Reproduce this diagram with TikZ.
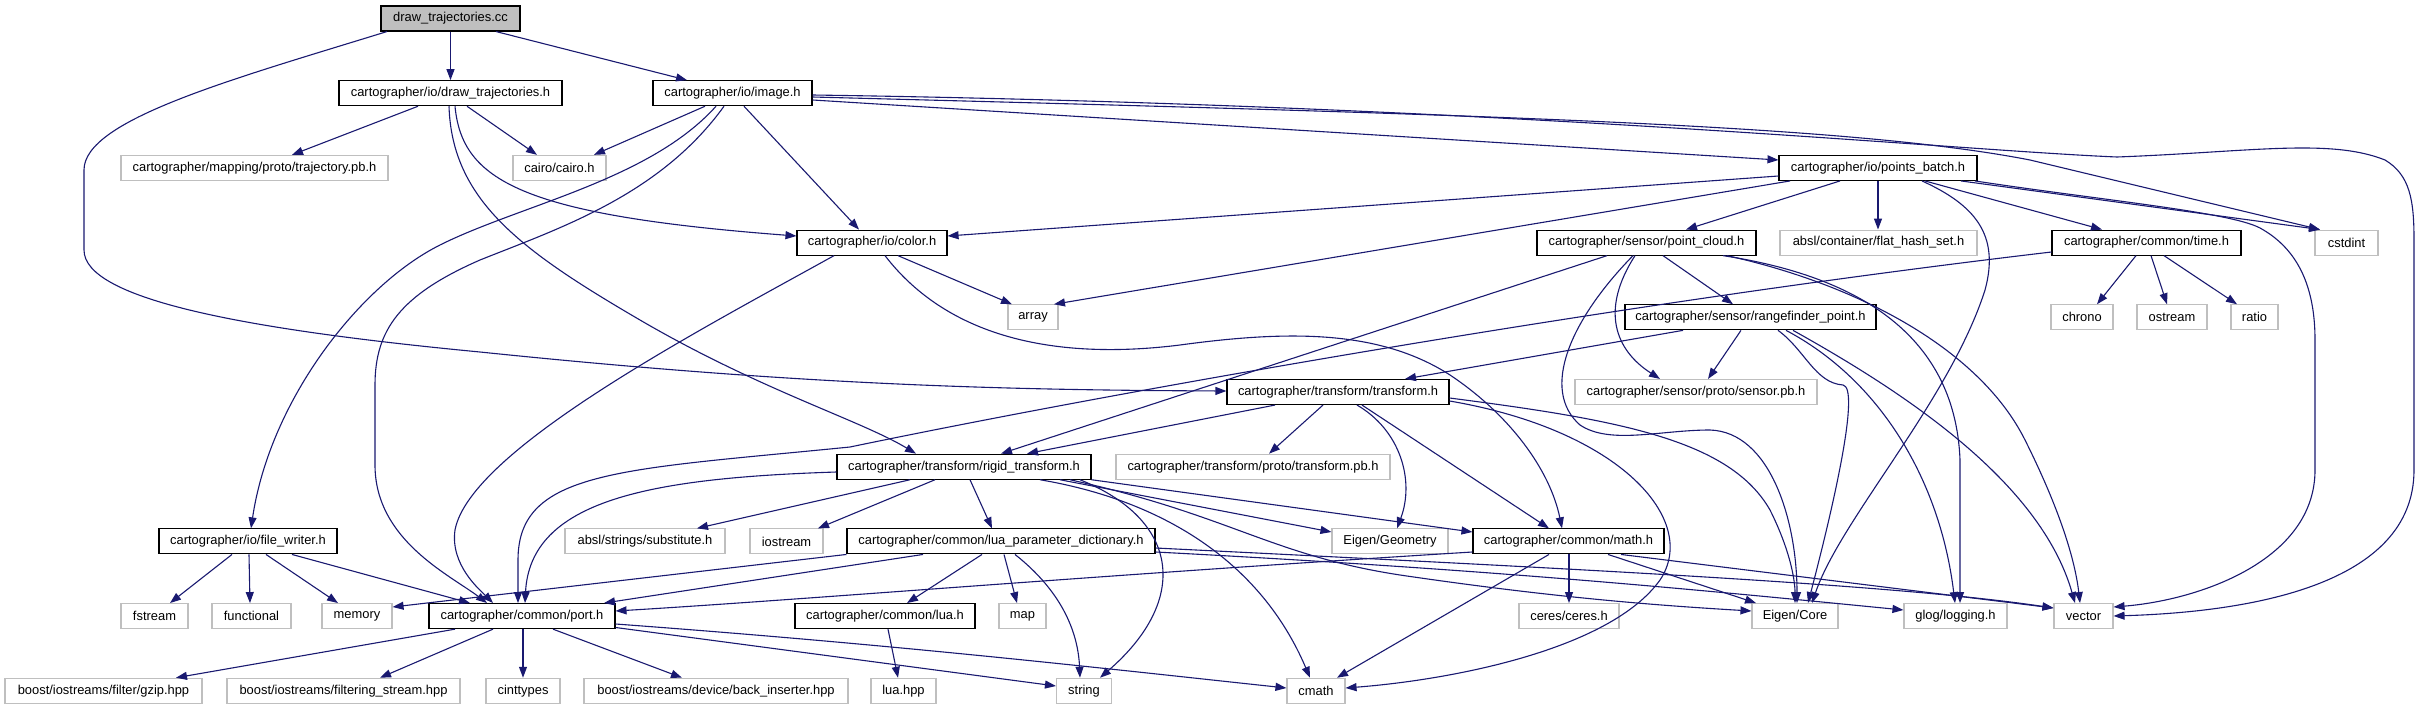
\documentclass[tikz,border=0pt]{standalone}
\usepackage{fontspec}
\setmainfont{Liberation Sans}
\usetikzlibrary{arrows.meta}
\definecolor{edgeblue}{RGB}{25,25,112}
\definecolor{extgray}{RGB}{191,191,191}
\begin{document}
\begin{tikzpicture}[x=1pt,y=-1pt,
  base/.style={rectangle, minimum height=25pt, inner sep=0pt, line width=1.1pt,
    font=\fontsize{12.9}{14}\selectfont, text=black},
  inode/.style={base, draw=black, fill=white},
  enode/.style={base, draw=extgray, fill=white},
  rootnode/.style={base, draw=black, fill=extgray},
  edge/.style={draw=edgeblue, line width=1.1pt, -{Triangle[length=11pt,width=8pt]}}]
\useasboundingbox (0,0) rectangle (2420,709);
% nodes
\node[rootnode, minimum width=139pt] (dtcc) at (450.5,18.5) {draw\_trajectories.cc};
\node[inode, minimum width=223pt] (dth) at (450.5,93.2) {cartographer/io/draw\_trajectories.h};
\node[inode, minimum width=159pt] (imgh) at (732.5,93.2) {cartographer/io/image.h};
\node[enode, minimum width=267pt] (trajpb) at (254.5,167.9) {cartographer/mapping/proto/trajectory.pb.h};
\node[enode, minimum width=93pt] (cairo) at (559.5,167.9) {cairo/cairo.h};
\node[inode, minimum width=198pt] (pbatch) at (1878,167.9) {cartographer/io/points\_batch.h};
\node[inode, minimum width=150pt] (colorh) at (872,242.6) {cartographer/io/color.h};
\node[inode, minimum width=219pt] (pcloud) at (1646.5,242.6) {cartographer/sensor/point\_cloud.h};
\node[enode, minimum width=197pt] (flat) at (1878.5,242.6) {absl/container/flat\_hash\_set.h};
\node[inode, minimum width=189pt] (timeh) at (2146.5,242.6) {cartographer/common/time.h};
\node[enode, minimum width=63pt] (cstdint) at (2346.5,242.6) {cstdint};
\node[enode, minimum width=50pt] (array) at (1033,317.3) {array};
\node[inode, minimum width=251pt] (rfp) at (1750.5,317.3) {cartographer/sensor/rangefinder\_point.h};
\node[enode, minimum width=62pt] (chrono) at (2082,317.3) {chrono};
\node[enode, minimum width=70pt] (ostream) at (2172,317.3) {ostream};
\node[enode, minimum width=47pt] (ratio) at (2254.5,317.3) {ratio};
\node[inode, minimum width=222pt] (transformh) at (1338,392) {cartographer/transform/transform.h};
\node[enode, minimum width=242pt] (sensorpb) at (1696,392) {cartographer/sensor/proto/sensor.pb.h};
\node[inode, minimum width=254pt] (rigid) at (964,466.7) {cartographer/transform/rigid\_transform.h};
\node[enode, minimum width=274pt] (transpb) at (1253,466.7) {cartographer/transform/proto/transform.pb.h};
\node[inode, minimum width=178pt] (filew) at (248,541.4) {cartographer/io/file\_writer.h};
\node[enode, minimum width=160pt] (subst) at (645,541.4) {absl/strings/substitute.h};
\node[enode, minimum width=73pt] (iostream) at (786.5,541.4) {iostream};
\node[inode, minimum width=308pt] (luaparam) at (1001,541.4) {cartographer/common/lua\_parameter\_dictionary.h};
\node[enode, minimum width=116pt] (eigeng) at (1390,541.4) {Eigen/Geometry};
\node[inode, minimum width=191pt] (mathh) at (1568.5,541.4) {cartographer/common/math.h};
\node[enode, minimum width=67pt] (fstream) at (154.5,616.1) {fstream};
\node[enode, minimum width=79pt] (functional) at (251.5,616.1) {functional};
\node[enode, minimum width=70pt] (memory) at (357,616.1) {memory};
\node[inode, minimum width=186pt] (porth) at (522,616.1) {cartographer/common/port.h};
\node[inode, minimum width=180pt] (luah) at (885,616.1) {cartographer/common/lua.h};
\node[enode, minimum width=47pt] (map) at (1022.5,616.1) {map};
\node[enode, minimum width=100pt] (ceres) at (1569,616.1) {ceres/ceres.h};
\node[enode, minimum width=86pt] (eigenc) at (1795,616.1) {Eigen/Core};
\node[enode, minimum width=103pt] (glog) at (1955.5,616.1) {glog/logging.h};
\node[enode, minimum width=59pt] (vector) at (2083.5,616.1) {vector};
\node[enode, minimum width=197pt] (gzip) at (103.5,690.8) {boost/iostreams/filter/gzip.hpp};
\node[enode, minimum width=233pt] (filtering) at (343.5,690.8) {boost/iostreams/filtering\_stream.hpp};
\node[enode, minimum width=74pt] (cinttypes) at (523,690.8) {cinttypes};
\node[enode, minimum width=264pt] (backins) at (716,690.8) {boost/iostreams/device/back\_inserter.hpp};
\node[enode, minimum width=65pt] (luahpp) at (903.5,690.8) {lua.hpp};
\node[enode, minimum width=55pt] (string) at (1084,690.8) {string};
\node[enode, minimum width=58pt] (cmath) at (1316,690.8) {cmath};
% edges: draw_trajectories.cc
\draw[edge] (dtcc.south) -- (dth.north);
\draw[edge] (dtcc.south -| 496,0) -- (imgh.north -| 687,0);
\draw[edge] (dtcc.south -| 387,0) .. controls (230,80) and (84,120) .. (84,170) -- (84,250) .. controls (84,300) and (250,330) .. (480,352) .. controls (800,385) and (1000,390) .. (transformh.west |- 0,391);
% draw_trajectories.h
\draw[edge] (dth.south -| 418,0) -- (trajpb.north -| 292,0);
\draw[edge] (dth.south -| 467,0) -- (cairo.north -| 537,0);
\draw[edge] (dth.south -| 455,0) .. controls (462,180) and (520,215) .. (colorh.west |- 0,236);
\draw[edge] (dth.south -| 449,0) .. controls (452,200) and (520,250) .. (640,320) .. controls (760,390) and (860,420) .. (rigid.north -| 916,0);
% image.h
\draw[edge] (imgh.south -| 705,0) -- (cairo.north -| 594,0);
\draw[edge] (imgh.south -| 744,0) -- (colorh.north -| 859,0);
\draw[edge] (imgh.south -| 716,0) .. controls (650,180) and (520,205) .. (440,245) .. controls (360,285) and (270,400) .. (filew.north -| 251,0);
\draw[edge] (imgh.south -| 724,0) .. controls (660,195) and (560,228) .. (480,260) .. controls (400,295) and (375,330) .. (375,385) -- (375,465) .. controls (375,540) and (450,575) .. (porth.north -| 487,0);
\draw[edge] (imgh.east |- 0,100) -- (pbatch.west |- 0,160);
\draw[edge] (imgh.east |- 0,97) .. controls (1500,115) and (1850,125) .. (2030,160) -- (cstdint.north -| 2320,0);
\draw[edge] (imgh.east |- 0,95) .. controls (1500,105) and (1950,150) .. (2117,157) .. controls (2250,152) and (2330,138) .. (2385,160) .. controls (2410,175) and (2414,200) .. (2414,240) -- (2414,470) .. controls (2414,585) and (2250,612) .. (vector.east |- 0,616);
% color.h
\draw[edge] (colorh.south -| 898,0) -- (array.north -| 1012,0);
\draw[edge] (colorh.south -| 834,0) .. controls (700,330) and (470,450) .. (455,530) .. controls (450,565) and (480,590) .. (porth.north -| 493,0);
\draw[edge] (colorh.south -| 885,0) .. controls (950,340) and (1060,360) .. (1180,345) .. controls (1290,330) and (1380,330) .. (1450,375) .. controls (1510,415) and (1550,470) .. (mathh.north -| 1562,0);
% points_batch.h
\draw[edge] (pbatch.west |- 0,176) -- (colorh.east |- 0,236);
\draw[edge] (pbatch.south -| 1790,0) -- (array.north -| 1054,0);
\draw[edge] (pbatch.south -| 1840,0) -- (pcloud.north -| 1686,0);
\draw[edge] (pbatch.south -| 1878,0) -- (flat.north -| 1878,0);
\draw[edge] (pbatch.south -| 1922,0) .. controls (1975,205) and (2000,235) .. (1985,290) .. controls (1950,400) and (1840,520) .. (eigenc.north -| 1812,0);
\draw[edge] (pbatch.south -| 1925,0) -- (timeh.north -| 2102,0);
\draw[edge] (pbatch.south -| 1961,0) -- (cstdint.north -| 2320,0);
\draw[edge] (pbatch.south -| 1975,0) .. controls (2100,200) and (2230,212) .. (2260,228) .. controls (2300,250) and (2315,290) .. (2315,340) -- (2315,470) .. controls (2315,560) and (2200,600) .. (vector.east |- 0,607);
% time.h
\draw[edge] (timeh.south -| 2136,0) -- (chrono.north -| 2097,0);
\draw[edge] (timeh.south -| 2151,0) -- (ostream.north -| 2167,0);
\draw[edge] (timeh.south -| 2164,0) -- (ratio.north -| 2237,0);
\draw[edge] (timeh.west |- 0,252) .. controls (1600,305) and (1100,395) .. (850,447) .. controls (620,470) and (518,470) .. (518,560) -- (porth.north -| 518,0);
% point_cloud.h
\draw[edge] (pcloud.south -| 1607,0) -- (rigid.north -| 1001,0);
\draw[edge] (pcloud.south -| 1635,0) .. controls (1600,310) and (1615,350) .. (sensorpb.north -| 1660,0);
\draw[edge] (pcloud.south -| 1663,0) -- (rfp.north -| 1733,0);
\draw[edge] (pcloud.south -| 1633,0) .. controls (1570,320) and (1540,390) .. (1580,425) .. controls (1610,445) and (1660,430) .. (1710,430) .. controls (1770,432) and (1797,520) .. (eigenc.north -| 1797,0);
\draw[edge] (pcloud.south -| 1723,0) .. controls (1850,275) and (1955,330) .. (1960,460) -- (glog.north -| 1960,0);
\draw[edge] (pcloud.south -| 1727,0) .. controls (1860,285) and (1980,350) .. (2025,440) .. controls (2060,510) and (2075,560) .. (vector.north -| 2080,0);
% rangefinder_point.h
\draw[edge] (rfp.south -| 1683,0) -- (transformh.north -| 1405,0);
\draw[edge] (rfp.south -| 1741,0) -- (sensorpb.north -| 1708,0);
\draw[edge] (rfp.south -| 1778,0) .. controls (1805,350) and (1815,383) .. (1843,385) .. controls (1860,388) and (1835,500) .. (eigenc.north -| 1808,0);
\draw[edge] (rfp.south -| 1786,0) .. controls (1880,380) and (1940,480) .. (glog.north -| 1955,0);
\draw[edge] (rfp.south -| 1793,0) .. controls (1900,390) and (2040,480) .. (vector.north -| 2075,0);
% transform.h
\draw[edge] (transformh.south -| 1275,0) -- (rigid.north -| 1027,0);
\draw[edge] (transformh.south -| 1323,0) -- (transpb.north -| 1269,0);
\draw[edge] (transformh.south -| 1357,0) .. controls (1400,430) and (1415,480) .. (eigeng.north -| 1397,0);
\draw[edge] (transformh.south -| 1362,0) -- (mathh.north -| 1549,0);
\draw[edge] (transformh.east |- 0,398) .. controls (1620,420) and (1730,440) .. (1770,510) .. controls (1790,550) and (1795,580) .. (eigenc.north -| 1795,0);
\draw[edge] (transformh.east |- 0,401) .. controls (1620,430) and (1700,520) .. (1660,580) .. controls (1610,650) and (1450,680) .. (cmath.east |- 0,688);
% rigid_transform.h
\draw[edge] (rigid.west |- 0,472) .. controls (650,478) and (530,500) .. (porth.north -| 525,0);
\draw[edge] (rigid.south -| 910,0) -- (subst.north -| 697,0);
\draw[edge] (rigid.south -| 935,0) -- (iostream.north -| 818,0);
\draw[edge] (rigid.south -| 970,0) -- (luaparam.north -| 992,0);
\draw[edge] (rigid.south -| 1060,0) -- (eigeng.west |- 0,532);
\draw[edge] (rigid.south east) -- (mathh.west |- 0,532);
\draw[edge] (rigid.south -| 1080,0) .. controls (1180,520) and (1190,600) .. (string.north -| 1100,0);
\draw[edge] (rigid.south -| 1040,0) .. controls (1160,500) and (1260,560) .. (cmath.north -| 1310,0);
\draw[edge] (rigid.south -| 1070,0) .. controls (1230,515) and (1270,555) .. (1400,575) .. controls (1550,597) and (1650,605) .. (eigenc.west |- 0,611);
% lua_parameter_dictionary.h
\draw[edge] (luaparam.south -| 982,0) -- (luah.north -| 907,0);
\draw[edge] (luaparam.south -| 1004,0) -- (map.north -| 1017,0);
\draw[edge] (luaparam.south -| 1015,0) .. controls (1060,590) and (1078,630) .. (string.north -| 1080,0);
\draw[edge] (luaparam.south west) -- (memory.east |- 0,607);
\draw[edge] (luaparam.south -| 923,0) -- (porth.north -| 604,0);
\draw[edge] (luaparam.east |- 0,548) .. controls (1600,570) and (1900,585) .. (vector.west |- 0,608);
\draw[edge] (luaparam.east |- 0,552) .. controls (1500,570) and (1700,590) .. (glog.west |- 0,610);
% lua.h
\draw[edge] (luah.south -| 888,0) -- (luahpp.north -| 898,0);
% math.h
\draw[edge] (mathh.west |- 0,552) .. controls (1100,575) and (800,600) .. (porth.east |- 0,611);
\draw[edge] (mathh.south -| 1608,0) -- (eigenc.north -| 1756,0);
\draw[edge] (mathh.south -| 1549,0) -- (cmath.north -| 1337,0);
\draw[edge] (mathh.south -| 1569,0) -- (ceres.north -| 1569,0);
\draw[edge] (mathh.south -| 1621,0) -- (vector.west |- 0,608);
% file_writer.h
\draw[edge] (filew.south -| 232,0) -- (fstream.north -| 170,0);
\draw[edge] (filew.south -| 249,0) -- (functional.north -| 250,0);
\draw[edge] (filew.south -| 266,0) -- (memory.north -| 338,0);
\draw[edge] (filew.south -| 292,0) -- (porth.north -| 470,0);
% port.h
\draw[edge] (porth.south -| 455,0) -- (gzip.north -| 176,0);
\draw[edge] (porth.south -| 493,0) -- (filtering.north -| 380,0);
\draw[edge] (porth.south -| 523,0) -- (cinttypes.north -| 523,0);
\draw[edge] (porth.south -| 553,0) -- (backins.north -| 682,0);
\draw[edge] (porth.east |- 0,624) .. controls (900,645) and (1100,668) .. (cmath.west |- 0,688);
\draw[edge] (porth.east |- 0,627.5) -- (string.west |- 0,686);
\end{tikzpicture}
\end{document}
